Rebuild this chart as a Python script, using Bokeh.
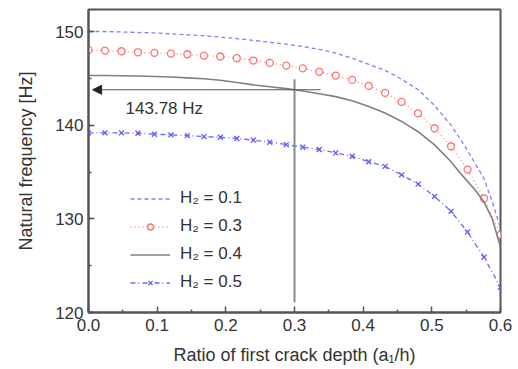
from bokeh.plotting import figure
from bokeh.models import (FixedTicker, SingleIntervalTicker, NumeralTickFormatter, Arrow,
                          NormalHead, Label, Range1d, Legend)
from bokeh.embed import file_html
from bokeh.resources import INLINE

# ---------------- data ----------------
x_marked = [0.000, 0.024, 0.048, 0.072, 0.096, 0.120, 0.144, 0.168, 0.192, 0.216,
            0.240, 0.264, 0.288, 0.312, 0.336, 0.360, 0.384, 0.408, 0.432, 0.456,
            0.480, 0.504, 0.528, 0.552, 0.576, 0.600]

x_h01 = [0.000, 0.024, 0.048, 0.072, 0.096, 0.120, 0.144, 0.168, 0.192, 0.216,
         0.240, 0.264, 0.288, 0.312, 0.336, 0.360, 0.384, 0.408, 0.432, 0.456,
         0.480, 0.504, 0.528, 0.552, 0.576, 0.588, 0.600]
h01 = [150.0, 150.0, 149.95, 149.9, 149.85, 149.75, 149.65, 149.55, 149.4, 149.25,
       149.05, 148.85, 148.65, 148.4, 148.1, 147.7, 147.15, 146.5, 145.85, 144.9,
       143.8, 142.1, 140.0, 137.3, 134.3, 131.8, 129.0]

h03 = [148.03, 147.96, 147.89, 147.78, 147.72, 147.64, 147.57, 147.43, 147.33, 147.15,
       146.9, 146.65, 146.36, 146.07, 145.7, 145.3, 144.83, 144.19, 143.45, 142.49,
       141.27, 139.67, 137.75, 135.26, 132.17, 128.3]

x_h04 = [0.000, 0.024, 0.048, 0.072, 0.096, 0.120, 0.144, 0.168, 0.192, 0.216,
         0.240, 0.264, 0.288, 0.312, 0.336, 0.360, 0.384, 0.408, 0.432, 0.456,
         0.480, 0.504, 0.528, 0.540, 0.552, 0.564, 0.576, 0.588, 0.600]
h04 = [145.3, 145.3, 145.28, 145.25, 145.2, 145.15, 145.05, 144.95, 144.8, 144.55,
       144.3, 144.1, 143.9, 143.65, 143.35, 143.05, 142.6, 142.0, 141.3, 140.4,
       139.3, 137.9, 136.1, 135.0, 134.0, 133.0, 131.8, 130.0, 127.0]

h05 = [139.18, 139.18, 139.18, 139.14, 139.03, 138.96, 138.89, 138.78, 138.71, 138.58,
       138.4, 138.18, 137.93, 137.64, 137.4, 137.04, 136.68, 136.1, 135.6, 134.7,
       133.7, 132.4, 130.8, 128.6, 125.9, 122.7]

x_ticks = [0.0, 0.1, 0.2, 0.3, 0.4, 0.5, 0.6]
x_minor_ticks = [0.05, 0.15, 0.25, 0.35, 0.45, 0.55]
y_ticks = [120, 130, 140, 150]

labels = ["H\u2082 = 0.1", "H\u2082 = 0.3", "H\u2082 = 0.4", "H\u2082 = 0.5"]
crack_ratio = 0.3
freq_value = 143.78
freq_text = "143.78 Hz"

FONT = "Liberation Sans"

p = figure(width=518, height=369, output_backend="svg", toolbar_location=None,
           x_range=Range1d(0, 0.6), y_range=Range1d(120, 152.35),
           min_border_left=88, min_border_right=18, min_border_top=9, min_border_bottom=57)

p.background_fill_color = "white"
p.border_fill_color = "white"
p.outline_line_color = "#555555"
p.outline_line_width = 2
p.grid.visible = False

# lines
r1 = p.line(x_h01, h01, line_color="#7f7fff", line_width=1.3, line_dash="4 3")
r2l = p.line(x_marked, h03, line_color="#ff8080", line_width=1.3, line_dash="1 3")
r2m = p.scatter(x_marked, h03, marker="circle", size=7, line_color="#ff7070",
                fill_color="white", line_width=1.3)
r3 = p.line(x_h04, h04, line_color="#808080", line_width=1.6)
r4l = p.line(x_marked, h05, line_color="#6a6aff", line_width=1.3, line_dash="5 3 1 3")
r4m = p.scatter(x_marked, h05, marker="x", size=7, line_color="#5a5aff", line_width=1.3)

# annotation lines
p.segment(x0=[crack_ratio], y0=[121.1], x1=[crack_ratio], y1=[144.9],
          line_color="#8a8a8a", line_width=2)
p.add_layout(Arrow(end=NormalHead(size=9, fill_color="#222222", line_color="#222222"),
                   x_start=0.338, y_start=freq_value, x_end=0.006, y_end=freq_value,
                   line_color="#555555", line_width=1.2))
p.add_layout(Label(x=0.054, y=141.82, text=freq_text, text_font=FONT,
                   text_font_size="17px", text_color="#333333", text_baseline="middle"))

legend = Legend(items=[(labels[0], [r1]), (labels[1], [r2l, r2m]),
                       (labels[2], [r3]), (labels[3], [r4l, r4m])],
                location=(42, 16))
legend.background_fill_alpha = 0
legend.border_line_alpha = 0
legend.padding = 0
legend.margin = 0
legend.spacing = 0
legend.glyph_width = 40
legend.glyph_height = 15
legend.label_height = 28
legend.label_standoff = 10
legend.label_text_font = FONT
legend.label_text_font_size = "17px"
legend.label_text_color = "#333333"
p.add_layout(legend)

# axes
p.xaxis.ticker = FixedTicker(ticks=x_ticks, minor_ticks=x_minor_ticks)
p.yaxis.ticker = SingleIntervalTicker(interval=10, num_minor_ticks=2)
p.xaxis.formatter = NumeralTickFormatter(format="0.0")
p.xaxis.axis_label = "Ratio of first crack depth (a\u2081/h)"
p.yaxis.axis_label = "Natural frequency [Hz]"
for ax in (p.xaxis, p.yaxis):
    ax.axis_line_color = "#555555"
    ax.axis_line_width = 2
    ax.major_tick_line_color = "#555555"
    ax.minor_tick_line_color = "#555555"
    ax.major_tick_line_width = 1.5
    ax.minor_tick_line_width = 1.5
    ax.major_tick_in = 6
    ax.major_tick_out = 0
    ax.minor_tick_in = 3
    ax.minor_tick_out = 0
    ax.major_label_text_font = FONT
    ax.major_label_text_font_size = "17px"
    ax.major_label_text_color = "#333333"
    ax.axis_label_text_font = FONT
    ax.axis_label_text_font_size = "18px"
    ax.axis_label_text_font_style = "normal"
    ax.axis_label_text_color = "#333333"
p.xaxis.major_label_standoff = 6
p.yaxis.major_label_standoff = 5
p.xaxis.axis_label_standoff = 11
p.yaxis.axis_label_standoff = 16

open("out.html", "w").write(file_html(p, INLINE))
